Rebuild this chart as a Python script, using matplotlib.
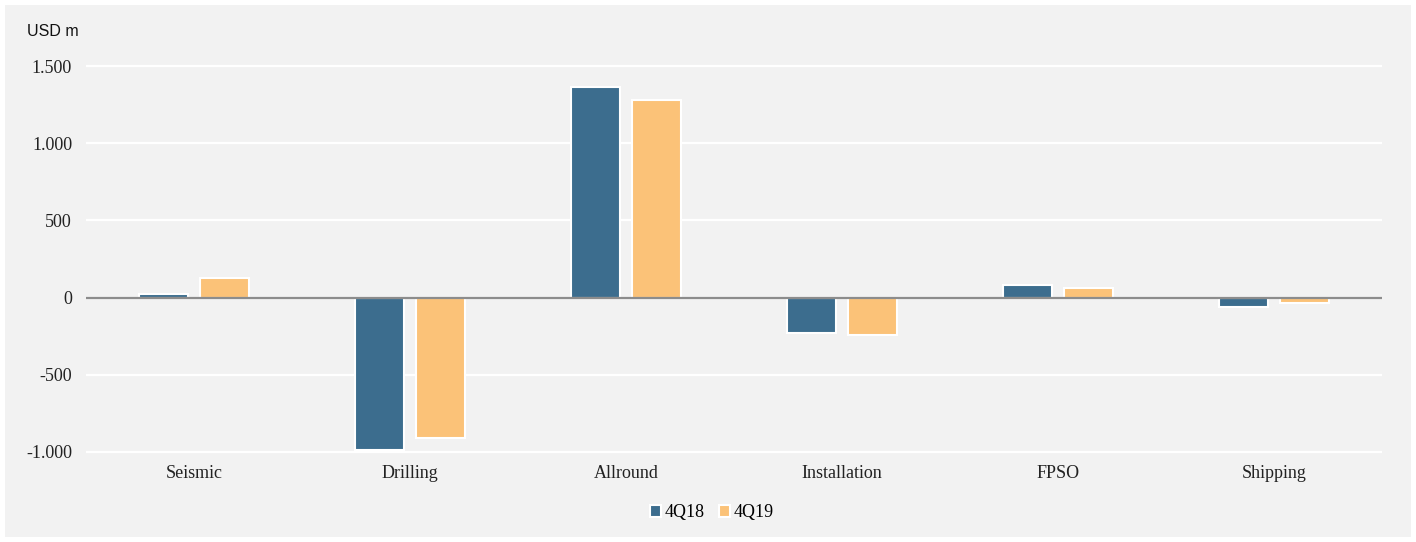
import matplotlib
matplotlib.use("Agg")
import matplotlib.pyplot as plt
import numpy as np
from matplotlib.patches import Rectangle

categories = ["Seismic", "Drilling", "Allround", "Installation", "FPSO", "Shipping"]
series_names = ["4Q18", "4Q19"]
values_4q18 = [22, -987, 1364, -228, 83, -63]
values_4q19 = [125, -913, 1282, -242, 60, -33]
yticks = [-1000, -500, 0, 500, 1000, 1500]
ytick_labels = ["-1.000", "-500", "0", "500", "1.000", "1.500"]

c_blue = "#3c6d8e"
c_orange = "#fbc278"
bg = "#f2f2f2"

W, H = 1416, 542
fig = plt.figure(figsize=(W / 100, H / 100), dpi=100)
fig.patch.set_facecolor("white")
bgrect = Rectangle((5 / W, 5 / H), (W - 10) / W, (H - 10) / H,
                   transform=fig.transFigure, facecolor=bg,
                   edgecolor="none", zorder=-10)
fig.patches.append(bgrect)

ppu = (451.7 - 66) / 2500.0
y0 = 297.5
ylo, yhi = -1050, 1600
bot_px = y0 - ylo * ppu
top_px = y0 - yhi * ppu
ax = fig.add_axes([86 / W, 1 - bot_px / H, (1382 - 86) / W, (bot_px - top_px) / H])
ax.set_facecolor("none")
ax.set_zorder(1)

x = np.arange(len(categories))
bw = 0.225
off = 0.141
ax.bar(x - off, values_4q18, width=bw, color=c_blue, edgecolor="white",
       linewidth=1.5, label=series_names[0], zorder=3)
ax.bar(x + off, values_4q19, width=bw, color=c_orange, edgecolor="white",
       linewidth=1.5, label=series_names[1], zorder=3)

ax.set_xlim(-0.5, len(categories) - 0.5)
ax.set_ylim(ylo, yhi)
ax.set_yticks(yticks)
ax.set_yticklabels(ytick_labels)
ax.set_xticks(x)
ax.set_xticklabels(categories)
for t in ax.get_yticklabels() + ax.get_xticklabels():
    t.set_fontfamily("Liberation Serif")
    t.set_fontsize(13)
    t.set_color("#222222")
ax.tick_params(axis="both", length=0)
ax.tick_params(axis="y", pad=10)
ax.tick_params(axis="x", pad=4)
ax.grid(axis="y", color="white", linewidth=1.6, zorder=1)
ax.set_axisbelow(True)
for s in ax.spines.values():
    s.set_visible(False)
ax.axhline(0, color="#8c8c8c", linewidth=1.6, zorder=4)

fig.text(27 / W, 1 - 31 / H, "USD m", fontfamily="Liberation Sans",
         fontsize=11.5, va="center", ha="left", color="#111111")

leg = fig.legend(loc="center", bbox_to_anchor=(712 / W, 1 - 513 / H), ncol=2,
                 frameon=False, prop={"family": "Liberation Serif", "size": 13},
                 handlelength=0.6, handleheight=0.6, handletextpad=0.2,
                 columnspacing=0.8)
for h in leg.legend_handles:
    h.set_edgecolor("white")

fig.savefig("out.png", dpi=100, facecolor=fig.get_facecolor())
